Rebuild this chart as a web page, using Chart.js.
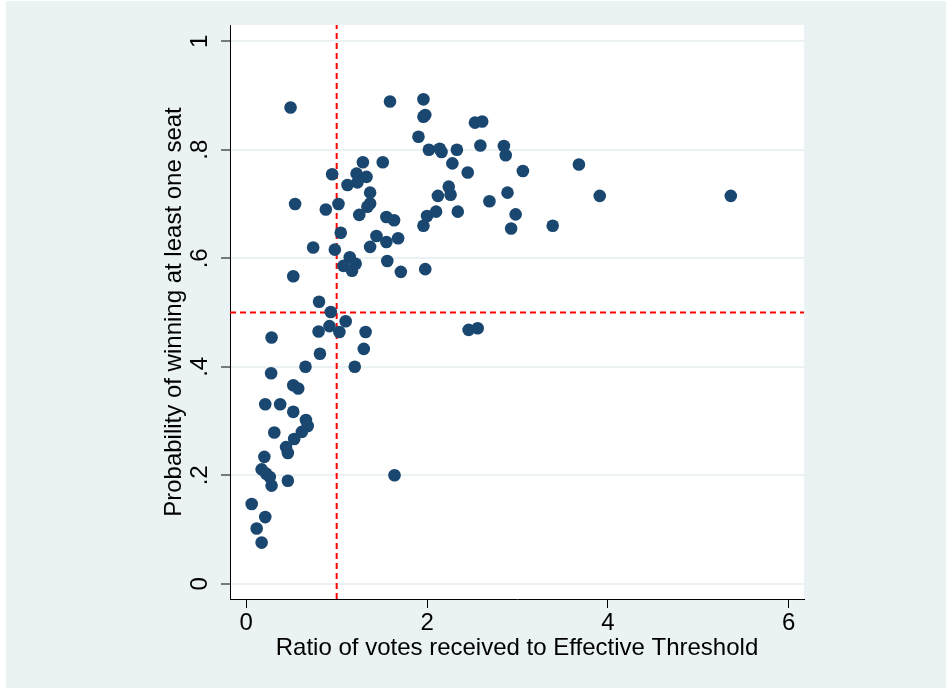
<!DOCTYPE html>
<html>
<head>
<meta charset="utf-8">
<script src="https://cdn.jsdelivr.net/npm/chart.js@4"></script>
<style>
  html, body { margin: 0; padding: 0; background: #ffffff; }
  canvas { display: block; }
</style>
</head>
<body>
<canvas id="seatChart" width="946" height="688"></canvas>
<script>
// Ratio of votes received to effective threshold (x) and probability of a seat (y)
const ratioValues = [
  0.49, 1.59, 1.96, 1.96, 1.98, 1.905, 2.02, 2.14, 2.16, 2.33,
  2.28, 2.53, 2.61, 2.59, 2.85, 2.87, 2.45, 3.06, 3.68, 3.91,
  5.36, 2.24, 2.26, 2.12, 2.10, 2.00, 1.96, 2.34, 2.69, 2.89,
  2.98, 2.93, 3.39, 1.29, 1.51, 0.95, 1.22, 1.33, 1.23, 1.12,
  1.37, 0.54, 1.02, 0.88, 1.37, 1.34, 1.25, 1.55, 1.635, 1.045,
  1.44, 1.55, 1.68, 0.74, 0.98, 1.37, 1.145, 1.21, 1.075, 1.17,
  1.56, 1.71, 1.98, 0.52, 0.805, 0.935, 1.10, 0.92, 1.03, 0.80,
  1.32, 0.28, 1.30, 0.815, 1.20, 0.655, 0.275, 0.52, 0.575, 0.21,
  0.375, 0.52, 0.66, 0.68, 0.615, 0.31, 0.53, 0.44, 0.46, 0.20,
  0.17, 0.22, 0.26, 0.28, 0.46, 1.64, 0.06, 0.21, 0.115, 0.17,
  2.46, 2.56
];
const probValues = [
  0.878, 0.889, 0.893, 0.861, 0.864, 0.824, 0.800, 0.802, 0.796, 0.800,
  0.775, 0.850, 0.852, 0.808, 0.807, 0.790, 0.758, 0.761, 0.773, 0.715,
  0.715, 0.732, 0.717, 0.715, 0.686, 0.678, 0.660, 0.686, 0.705, 0.721,
  0.681, 0.655, 0.660, 0.777, 0.777, 0.755, 0.756, 0.750, 0.740, 0.735,
  0.721, 0.700, 0.700, 0.690, 0.701, 0.695, 0.680, 0.676, 0.670, 0.647,
  0.641, 0.630, 0.637, 0.620, 0.616, 0.621, 0.602, 0.590, 0.586, 0.577,
  0.595, 0.575, 0.580, 0.567, 0.520, 0.501, 0.484, 0.475, 0.464, 0.465,
  0.464, 0.454, 0.433, 0.424, 0.400, 0.400, 0.388, 0.366, 0.360, 0.331,
  0.331, 0.317, 0.302, 0.291, 0.280, 0.279, 0.267, 0.252, 0.241, 0.234,
  0.211, 0.203, 0.197, 0.181, 0.190, 0.200, 0.147, 0.123, 0.102, 0.076,
  0.468, 0.471
];

// reference lines
const thresholdRatio = 1;
const evenChance = 0.5;

// axes
const xTicks = [0, 2, 4, 6];
const yTicks = [0, 0.2, 0.4, 0.6, 0.8, 1];
const yTickLabels = ['0', '.2', '.4', '.6', '.8', '1'];
const xRange = [-0.18, 6.17];
const yRange = [-0.028, 1.03];

const points = ratioValues.map((x, i) => ({ x: x, y: probValues[i] }));

const bgPlugin = {
  id: 'stataBackground',
  beforeDraw(chart) {
    const ctx = chart.ctx;
    const a = chart.chartArea;
    ctx.save();
    ctx.fillStyle = '#ffffff';
    ctx.fillRect(0, 0, chart.width, chart.height);
    ctx.fillStyle = '#eaf2f3';
    ctx.fillRect(6, 1, chart.width - 6, chart.height - 1);
    ctx.fillStyle = '#ffffff';
    ctx.fillRect(a.left, a.top, a.right - a.left, a.bottom - a.top);
    ctx.restore();
  }
};

Chart.defaults.font.family = '"Liberation Sans", Arial, sans-serif';
Chart.defaults.color = '#000000';

const ctx = document.getElementById('seatChart').getContext('2d');
window.myChart = new Chart(ctx, {
  type: 'scatter',
  data: {
    datasets: [
      {
        data: points,
        backgroundColor: '#1a476f',
        borderColor: '#1a476f',
        borderWidth: 0,
        pointRadius: 6.3,
        order: 0
      },
      {
        type: 'line',
        data: [{ x: thresholdRatio, y: yRange[0] }, { x: thresholdRatio, y: yRange[1] }],
        borderColor: '#ff0000',
        borderWidth: 2,
        borderDash: [6, 4],
        pointRadius: 0,
        fill: false,
        order: 1
      },
      {
        type: 'line',
        data: [{ x: xRange[0], y: evenChance }, { x: xRange[1], y: evenChance }],
        borderColor: '#ff0000',
        borderWidth: 2,
        borderDash: [6, 4],
        pointRadius: 0,
        fill: false,
        order: 1
      }
    ]
  },
  options: {
    responsive: false,
    animation: false,
    devicePixelRatio: 1,
    layout: { padding: { left: 0, top: 25, right: 142, bottom: 0 } },
    plugins: {
      legend: { display: false },
      tooltip: { enabled: false }
    },
    scales: {
      x: {
        type: 'linear',
        min: xRange[0],
        max: xRange[1],
        afterBuildTicks: s => { s.ticks = xTicks.map(v => ({ value: v })); },
        afterFit: s => { s.height = 89; },
        grid: { drawOnChartArea: false, drawTicks: true, tickLength: 9, tickColor: '#000000', tickWidth: 1 },
        border: { display: true, color: '#000000', width: 1 },
        ticks: {
          autoSkip: false,
          maxRotation: 0,
          padding: 1,
          font: { size: 24 },
          callback: v => String(v)
        },
        title: {
          display: true,
          text: 'Ratio of votes received to Effective Threshold',
          font: { size: 24 },
          padding: { top: 0, bottom: 25 }
        }
      },
      y: {
        type: 'linear',
        min: yRange[0],
        max: yRange[1],
        afterBuildTicks: s => { s.ticks = yTicks.map(v => ({ value: v })); },
        afterFit: s => { s.width = 230; },
        grid: { color: '#eaf2f3', lineWidth: 2, drawTicks: true, tickLength: 9, tickColor: '#000000', tickWidth: 1 },
        border: { display: true, color: '#000000', width: 1 },
        ticks: {
          autoSkip: false,
          minRotation: 90,
          maxRotation: 90,
          crossAlign: 'center',
          padding: 10.5,
          font: { size: 24 },
          callback: (v, i) => yTickLabels[i]
        },
        title: {
          display: true,
          text: 'Probability of winning at least one seat',
          font: { size: 24 },
          padding: { top: 160, bottom: 0 }
        }
      }
    }
  },
  plugins: [bgPlugin]
});
</script>
</body>
</html>
